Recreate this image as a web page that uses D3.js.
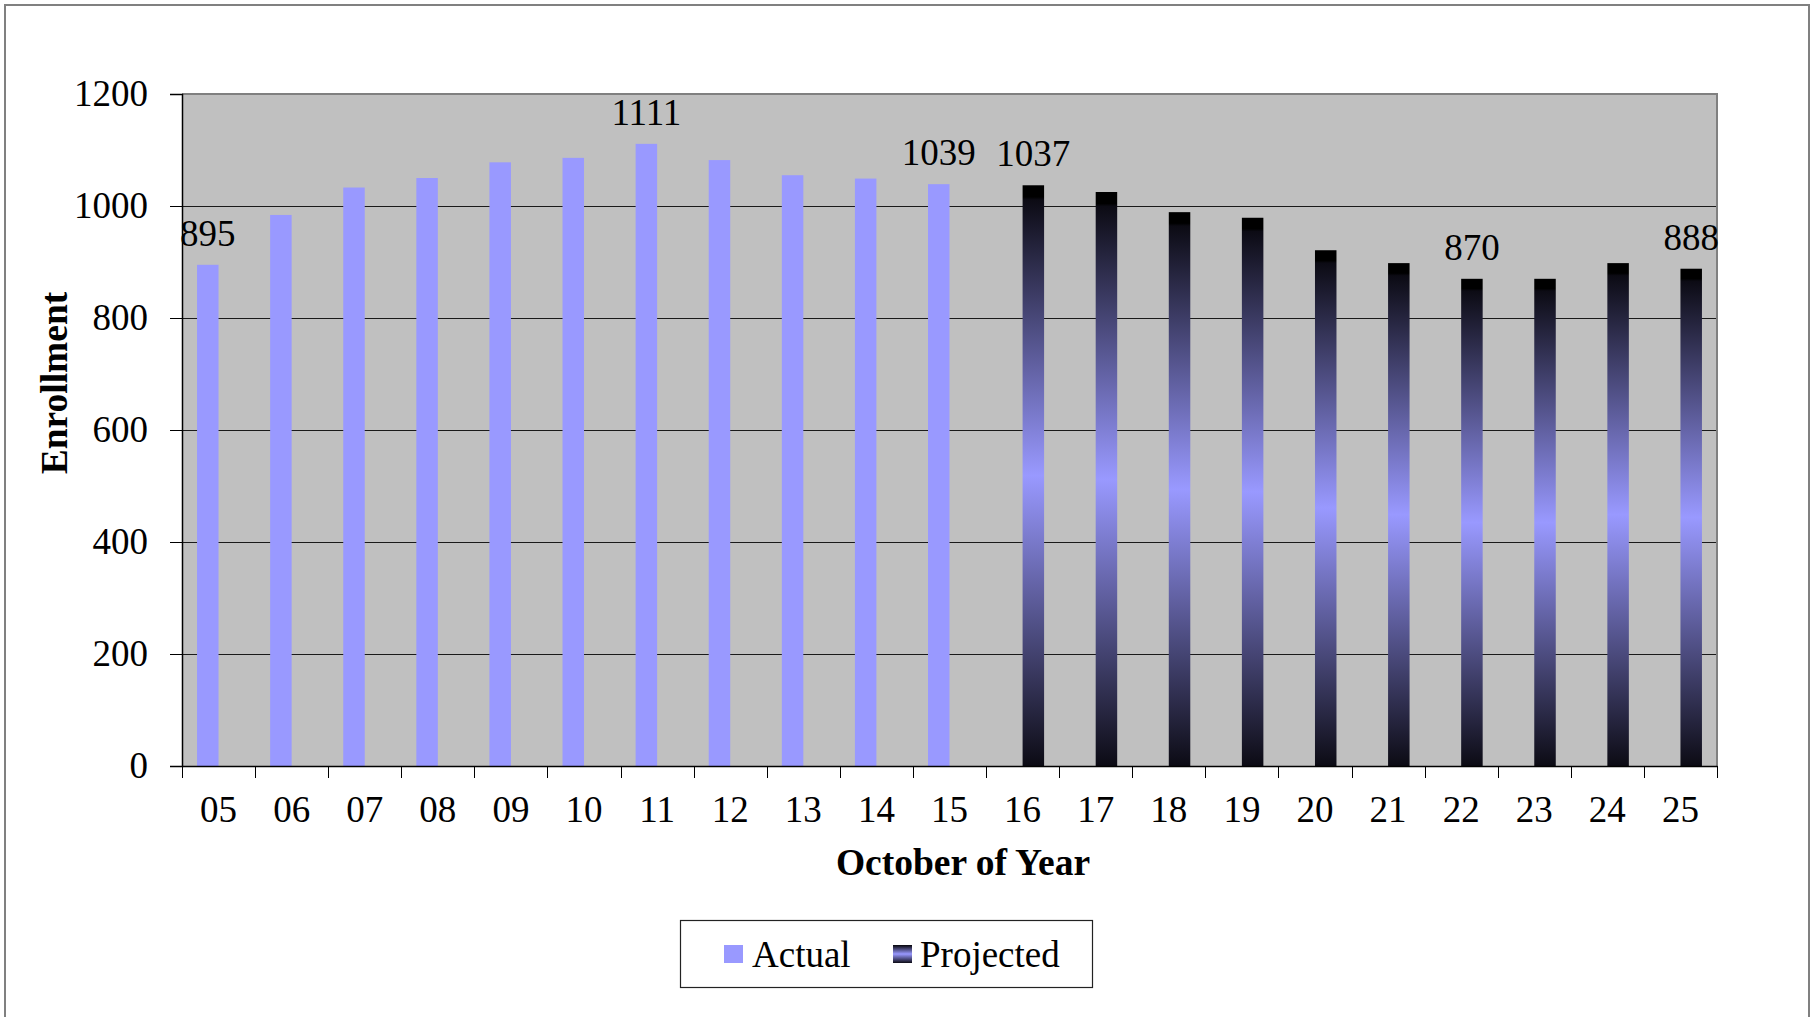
<!DOCTYPE html>
<html>
<head>
<meta charset="utf-8">
<script src="https://cdn.jsdelivr.net/npm/d3@7"></script>
<style>
  html, body { margin: 0; padding: 0; background: #fff; }
  svg { display: block; font-family: "Liberation Serif", "Times New Roman", serif; }
</style>
</head>
<body>
<svg id="chart" width="1813" height="1017"></svg>
<script>
// ---- Data ----
const years = ["05","06","07","08","09","10","11","12","13","14","15","16","17","18","19","20","21","22","23","24","25"];
const actual = [895, 984, 1033, 1050, 1078, 1086, 1111, 1082, 1055, 1049, 1039, null, null, null, null, null, null, null, null, null, null];
const projected = [null, null, null, null, null, null, null, null, null, null, null, 1037, 1025, 989, 979, 921, 898, 870, 870, 898, 888];
const seriesNames = ["Actual", "Projected"];
const labelled = {"Actual": ["05", "11", "15"], "Projected": ["16", "22", "25"]};
const yTicks = [0, 200, 400, 600, 800, 1000, 1200];

// ---- Layout ----
const svg = d3.select("#chart");
const plot = {left: 182, right: 1717, top: 94, bottom: 766};
const FS = 37;

// outer chart border
svg.append("rect").attr("x", 5).attr("y", 5).attr("width", 1804).attr("height", 1030)
  .attr("fill", "#fff").attr("stroke", "#808080").attr("stroke-width", 2);

const x = d3.scaleBand().domain(years).range([plot.left, plot.right]).padding(0);
const xs = d3.scaleBand().domain(seriesNames).range([0, x.bandwidth()]).paddingInner(0).paddingOuter(0.7);
const y = d3.scaleLinear().domain([0, 1200]).range([plot.bottom, plot.top]);

// gradient for projected
const defs = svg.append("defs");
const grad = defs.append("linearGradient").attr("id", "projGrad")
  .attr("x1", 0).attr("y1", 0).attr("x2", 0).attr("y2", 1);
[[0, "#000000"], [0.02, "#000000"], [0.025, "#0c0b14"], [0.5, "#9999ff"], [1, "#0c0b14"]]
  .forEach(([o, c]) => grad.append("stop").attr("offset", o).attr("stop-color", c));

const colors = {"Actual": "#9999ff", "Projected": "url(#projGrad)"};

// plot background
svg.append("rect").attr("x", plot.left).attr("y", plot.top)
  .attr("width", plot.right - plot.left).attr("height", plot.bottom - plot.top)
  .attr("fill", "#c0c0c0");

// gridlines
svg.append("g").selectAll("line").data(yTicks.filter(d => d > 0 && d < 1200)).join("line")
  .attr("x1", plot.left).attr("x2", plot.right)
  .attr("y1", d => Math.round(y(d)) + 0.5).attr("y2", d => Math.round(y(d)) + 0.5)
  .attr("stroke", "#1a1a1a").attr("stroke-width", 1);

// plot border top & right (gray)
svg.append("path")
  .attr("d", `M${plot.left},${plot.top}H${plot.right}V${plot.bottom}`)
  .attr("fill", "none").attr("stroke", "#808080").attr("stroke-width", 2);

// bars
const seriesData = {"Actual": actual, "Projected": projected};
seriesNames.forEach(s => {
  const pts = years.map((yr, i) => ({yr, v: seriesData[s][i]})).filter(d => d.v != null);
  svg.append("g").selectAll("rect").data(pts).join("rect")
    .attr("x", d => x(d.yr) + xs(s))
    .attr("width", xs.bandwidth())
    .attr("y", d => y(d.v))
    .attr("height", d => y(0) - y(d.v))
    .attr("fill", colors[s]);
  svg.append("g").selectAll("text").data(pts.filter(d => labelled[s].includes(d.yr))).join("text")
    .attr("x", d => x(d.yr) + xs(s) + xs.bandwidth() / 2)
    .attr("y", d => y(d.v) - 19)
    .attr("text-anchor", "middle")
    .attr("font-size", FS).attr("fill", "#000")
    .text(d => d.v);
});

// y axis
const yAxis = svg.append("g").attr("transform", `translate(${plot.left},0)`)
  .call(d3.axisLeft(y).tickValues(yTicks).tickSize(12).tickPadding(22).tickFormat(d3.format("d")));
yAxis.select(".domain").attr("stroke", "#000").attr("stroke-width", 1.5);
yAxis.selectAll(".tick line").attr("stroke", "#000");
yAxis.selectAll("text").attr("font-size", FS).attr("font-family", "Liberation Serif, Times New Roman, serif").attr("fill", "#000");

// x axis
const xAxis = svg.append("g").attr("transform", `translate(0,${plot.bottom})`)
  .call(d3.axisBottom(x).tickSize(0).tickPadding(30));
xAxis.select(".domain").attr("stroke", "#000").attr("stroke-width", 1.5);
xAxis.selectAll("text").attr("font-size", FS).attr("font-family", "Liberation Serif, Times New Roman, serif").attr("fill", "#000");
// boundary ticks
const bounds = years.map(d => x(d)).concat([plot.right]);
xAxis.append("g").selectAll("line").data(bounds).join("line")
  .attr("x1", d => Math.round(d) + 0.5).attr("x2", d => Math.round(d) + 0.5)
  .attr("y1", 0).attr("y2", 12).attr("stroke", "#000");

// axis titles
svg.append("text").attr("transform", `translate(67,383) rotate(-90)`)
  .attr("text-anchor", "middle").attr("font-size", 37.5).attr("font-weight", "bold")
  .text("Enrollment");
svg.append("text").attr("x", 963).attr("y", 875)
  .attr("text-anchor", "middle").attr("font-size", 37.5).attr("font-weight", "bold")
  .text("October of Year");

// legend
const lg = svg.append("g");
lg.append("rect").attr("x", 680.5).attr("y", 920.5).attr("width", 412).attr("height", 67)
  .attr("fill", "#fff").attr("stroke", "#222").attr("stroke-width", 1.2);
const legendItems = [{name: "Actual", sx: 724, tx: 752}, {name: "Projected", sx: 893, tx: 920}];
legendItems.forEach(it => {
  lg.append("rect").attr("x", it.sx).attr("y", 945).attr("width", 19).attr("height", 18)
    .attr("fill", colors[it.name]);
  lg.append("text").attr("x", it.tx).attr("y", 967).attr("font-size", FS).text(it.name);
});
</script>
</body>
</html>
